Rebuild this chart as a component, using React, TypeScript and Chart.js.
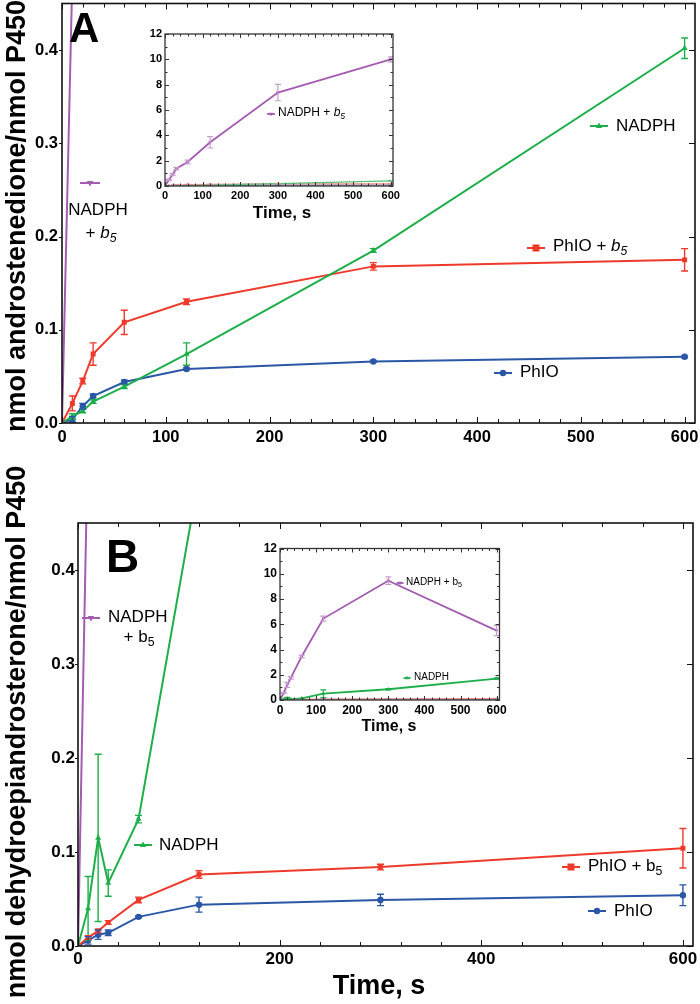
import React, { useEffect, useRef } from "react";
import { Chart, registerables } from "chart.js";
Chart.register(...registerables);

const FAMILY = '"Liberation Sans", Arial, Helvetica, sans-serif';

const TIMES = [0, 10, 20, 30, 60, 120, 300, 600];

// Tick labels
const A_XTICKS = [0, 100, 200, 300, 400, 500, 600];
const B_XTICKS = [0, 200, 400, 600];
const MAIN_YTICKS = [0, 0.1, 0.2, 0.3, 0.4];
const INSET_XTICKS = [0, 100, 200, 300, 400, 500, 600];
const INSET_YTICKS = [0, 2, 4, 6, 8, 10, 12];

// Panel A: androstenedione
const A_PHIO = [0, 0.004, 0.018, 0.029, 0.044, 0.058, 0.066, 0.071];
const A_PHIO_ERR = [0, 0.003, 0.003, 0.002, 0.002, 0.001, 0.001, 0.001];
const A_PHIO_B5 = [0, 0.021, 0.045, 0.074, 0.108, 0.13, 0.168, 0.175];
const A_PHIO_B5_ERR = [0, 0.008, 0.003, 0.012, 0.013, 0.003, 0.004, 0.012];
const A_NADPH = [0, 0.007, 0.013, 0.023, 0.039, 0.074, 0.185, 0.402];
const A_NADPH_ERR = [0, 0.003, 0.002, 0.002, 0.002, 0.012, 0.002, 0.011];
const A_NADPH_B5 = [0, 0.48, 0.9, 1.37, 1.9, 3.45, 7.38, 10.0];
const A_NADPH_B5_ERR = [0, 0.05, 0.08, 0.1, 0.15, 0.45, 0.65, 0.2];

// Panel B: dehydroepiandrosterone
const B_PHIO = [0, 0.006, 0.012, 0.014, 0.031, 0.044, 0.049, 0.054];
const B_PHIO_ERR = [0, 0.004, 0.005, 0.003, 0.001, 0.008, 0.006, 0.011];
const B_PHIO_B5 = [0, 0.009, 0.016, 0.025, 0.049, 0.076, 0.084, 0.104];
const B_PHIO_B5_ERR = [0, 0.002, 0.002, 0.002, 0.003, 0.004, 0.003, 0.021];
const B_NADPH = [0, 0.04, 0.115, 0.067, 0.135, 0.5, 0.85, 1.7];
const B_NADPH_ERR = [0, 0.034, 0.089, 0.014, 0.004, 0.3, 0.05, 0.05];
const B_NADPH_B5 = [0, 0.55, 1.2, 1.75, 3.45, 6.45, 9.45, 5.5];
const B_NADPH_B5_ERR = [0, 0.05, 0.2, 0.1, 0.1, 0.2, 0.3, 0.4];

const A_YTITLE = "nmol androstenedione/nmol P450";
const B_YTITLE = "nmol dehydroepiandrosterone/nmol P450";
const X_TITLE = "Time, s";

const COLORS = {
  phio: "#2B57A7",
  phiob5: "#EE3A2B",
  nadph: "#1EAF4B",
  nadphb5: "#A35CB0",
};

type Seg = { t: string; italic?: boolean; sub?: boolean };

function drawRich(ctx: any, segs: Seg[], x: number, y: number, size: number, align = "left", bold = false) {
  const fontFor = (s: Seg) =>
    `${s.italic ? "italic " : ""}${bold ? "bold " : ""}${s.sub ? size * 0.72 : size}px ${FAMILY}`;
  let w = 0;
  segs.forEach((s) => {
    ctx.font = fontFor(s);
    w += ctx.measureText(s.t).width;
  });
  let cx = align === "center" ? x - w / 2 : x;
  ctx.textAlign = "left";
  ctx.textBaseline = "middle";
  ctx.fillStyle = "#000";
  segs.forEach((s) => {
    ctx.font = fontFor(s);
    ctx.fillText(s.t, cx, y + (s.sub ? size * 0.32 : 0));
    cx += ctx.measureText(s.t).width;
  });
}

function drawMarker(ctx: any, x: number, y: number, style: string, r: number, color: string) {
  ctx.fillStyle = color;
  ctx.beginPath();
  if (style === "circle") ctx.arc(x, y, r, 0, Math.PI * 2);
  else if (style === "rect") ctx.rect(x - r, y - r, 2 * r, 2 * r);
  else if (style === "triangle") {
    ctx.moveTo(x, y - r);
    ctx.lineTo(x + r * 0.9, y + r * 0.6);
    ctx.lineTo(x - r * 0.9, y + r * 0.6);
    ctx.closePath();
  } else {
    ctx.moveTo(x, y + r);
    ctx.lineTo(x + r * 0.9, y - r * 0.6);
    ctx.lineTo(x - r * 0.9, y - r * 0.6);
    ctx.closePath();
  }
  ctx.fill();
}

function legendMark(ctx: any, x: number, y: number, len: number, color: string, style: string, r: number, lw = 2) {
  ctx.strokeStyle = color;
  ctx.lineWidth = lw;
  ctx.beginPath();
  ctx.moveTo(x - len / 2, y);
  ctx.lineTo(x + len / 2, y);
  ctx.stroke();
  drawMarker(ctx, x, y, style, r, color);
}

function rotTitle(ctx: any, text: string, x: number, y: number, size: number) {
  ctx.save();
  ctx.translate(x, y);
  ctx.rotate(-Math.PI / 2);
  ctx.font = `bold ${size}px ${FAMILY}`;
  ctx.textAlign = "center";
  ctx.textBaseline = "alphabetic";
  ctx.fillStyle = "#000";
  ctx.fillText(text, 0, 0);
  ctx.restore();
}

function makeDs(label: string, vals: number[], errs: number[], color: string, ps: string, rot: number, r: number, lw: number, errColor?: string) {
  return {
    label,
    data: TIMES.map((t, i) => ({ x: t, y: vals[i] })),
    errors: errs,
    errorColor: errColor || color,
    borderColor: color,
    backgroundColor: color,
    pointStyle: ps,
    rotation: rot,
    pointRadius: r,
    pointHoverRadius: r,
    pointBorderWidth: 0,
    borderWidth: lw,
    showLine: true,
    tension: 0,
  };
}

const errorBarPlugin = {
  id: "errbars",
  afterDatasetsDraw(chart: any, _a: any, opts: any) {
    const { ctx, chartArea: a, scales } = chart;
    const x = scales.x;
    const y = scales.y;
    ctx.save();
    ctx.beginPath();
    ctx.rect(a.left, a.top, a.right - a.left, a.bottom - a.top);
    ctx.clip();
    chart.data.datasets.forEach((d: any) => {
      if (!d.errors) return;
      ctx.strokeStyle = d.errorColor;
      ctx.lineWidth = opts.width || 1.2;
      d.data.forEach((p: any, i: number) => {
        const e = d.errors[i];
        if (!e || p.y > y.max) return;
        const px = x.getPixelForValue(p.x);
        const y1 = y.getPixelForValue(p.y + e);
        const y2 = y.getPixelForValue(p.y - e);
        const c = opts.cap || 3;
        ctx.beginPath();
        ctx.moveTo(px, y1);
        ctx.lineTo(px, y2);
        ctx.moveTo(px - c, y1);
        ctx.lineTo(px + c, y1);
        ctx.moveTo(px - c, y2);
        ctx.lineTo(px + c, y2);
        ctx.stroke();
      });
    });
    ctx.restore();
  },
};

type FrameCfg = {
  xMajor: number; xMinor: number; yMajor: number; yMinor: number;
  majLen: number; minLen: number; outLen: number; color: string; lw: number;
};

function framePlugin(f: FrameCfg) {
  return {
    id: "frame",
    afterDraw(chart: any) {
      const { ctx, chartArea: a, scales } = chart;
      const x = scales.x;
      const y = scales.y;
      ctx.save();
      ctx.strokeStyle = f.color;
      ctx.lineWidth = f.lw;
      ctx.strokeRect(a.left, a.top, a.right - a.left, a.bottom - a.top);
      ctx.lineWidth = 1;
      ctx.beginPath();
      const nx = Math.floor(x.max / f.xMinor + 1e-6);
      for (let k = 0; k <= nx; k++) {
        const v = k * f.xMinor;
        const major = Math.abs(v / f.xMajor - Math.round(v / f.xMajor)) < 1e-6;
        const L = major ? f.majLen : f.minLen;
        const px = Math.round(x.getPixelForValue(v)) + 0.5;
        ctx.moveTo(px, a.bottom);
        ctx.lineTo(px, a.bottom - L);
        ctx.moveTo(px, a.top);
        ctx.lineTo(px, a.top + L);
      }
      const ny = Math.floor(y.max / f.yMinor + 1e-6);
      for (let k = 0; k <= ny; k++) {
        const v = k * f.yMinor;
        const major = Math.abs(v / f.yMajor - Math.round(v / f.yMajor)) < 1e-6;
        const L = major ? f.majLen : f.minLen;
        const py = Math.round(y.getPixelForValue(v)) + 0.5;
        ctx.moveTo(a.right, py);
        ctx.lineTo(a.right - L, py);
        if (major && f.outLen > 0) {
          ctx.moveTo(a.left, py);
          ctx.lineTo(a.left - f.outLen, py);
        } else {
          ctx.moveTo(a.left, py);
          ctx.lineTo(a.left + L, py);
        }
      }
      ctx.stroke();
      ctx.restore();
    },
  };
}

type Spec = {
  left: number; top: number; width: number; height: number;
  datasets: any[];
  xMax: number; yMax: number; xTicks: number[]; yTicks: number[]; yDec: number;
  pad: { top: number; right: number };
  yWidth: number; xHeight: number;
  tickSize: number; xPad: number; yPad: number;
  frame: FrameCfg;
  cap: number; errWidth: number;
  overlay: (ctx: any) => void;
};

function noPad(sc: any) {
  sc.paddingTop = 0;
  sc.paddingBottom = 0;
  sc.paddingLeft = 0;
  sc.paddingRight = 0;
}

function buildConfig(s: Spec): any {
  const overlayPlugin = {
    id: "overlay",
    afterDraw(chart: any) {
      const ctx = chart.ctx;
      ctx.save();
      ctx.translate(-s.left, -s.top);
      s.overlay(ctx);
      ctx.restore();
    },
  };
  return {
    type: "scatter",
    data: { datasets: s.datasets },
    options: {
      responsive: false,
      animation: false,
      events: [],
      layout: { padding: { left: 0, top: s.pad.top, right: s.pad.right, bottom: 0 } },
      plugins: {
        legend: { display: false },
        tooltip: { enabled: false },
        errbars: { cap: s.cap, width: s.errWidth },
      },
      scales: {
        x: {
          type: "linear",
          min: 0,
          max: s.xMax,
          afterBuildTicks: (sc: any) => { sc.ticks = s.xTicks.map((v) => ({ value: v })); },
          afterFit: (sc: any) => { sc.height = s.xHeight; noPad(sc); },
          grid: { display: false, drawTicks: false },
          border: { display: false },
          ticks: {
            autoSkip: false,
            maxRotation: 0,
            padding: s.xPad,
            color: "#000",
            font: { family: FAMILY, size: s.tickSize, weight: "bold" },
            callback: (v: any) => String(Math.round(v)),
          },
        },
        y: {
          type: "linear",
          min: 0,
          max: s.yMax,
          afterBuildTicks: (sc: any) => { sc.ticks = s.yTicks.map((v) => ({ value: v })); },
          afterFit: (sc: any) => { sc.width = s.yWidth; noPad(sc); },
          grid: { display: false, drawTicks: false },
          border: { display: false },
          ticks: {
            autoSkip: false,
            padding: s.yPad,
            color: "#000",
            font: { family: FAMILY, size: s.tickSize, weight: "bold" },
            callback: (v: any) => Number(v).toFixed(s.yDec),
          },
        },
      },
    },
    plugins: [errorBarPlugin, framePlugin(s.frame), overlayPlugin],
  };
}

function ChartBox({ spec }: { spec: Spec }) {
  const ref = useRef<HTMLCanvasElement>(null);
  useEffect(() => {
    const chart = new Chart(ref.current as HTMLCanvasElement, buildConfig(spec));
    return () => chart.destroy();
  }, []);
  return (
    <canvas
      ref={ref}
      width={spec.width}
      height={spec.height}
      style={{ position: "absolute", left: spec.left, top: spec.top, width: spec.width, height: spec.height }}
    />
  );
}

const mainFrame: FrameCfg = { xMajor: 100, xMinor: 20, yMajor: 0.1, yMinor: 0.1, majLen: 6, minLen: 4, outLen: 3, color: "#111", lw: 1.6 };

const specA: Spec = {
  left: 0, top: 0, width: 700, height: 450,
  datasets: [
    makeDs("NADPH + b5", A_NADPH_B5, A_NADPH_B5_ERR, COLORS.nadphb5, "triangle", 180, 3.5, 2),
    makeDs("NADPH", A_NADPH, A_NADPH_ERR, COLORS.nadph, "triangle", 0, 3.5, 2),
    makeDs("PhIO + b5", A_PHIO_B5, A_PHIO_B5_ERR, COLORS.phiob5, "rect", 0, 3.5, 2),
    makeDs("PhIO", A_PHIO, A_PHIO_ERR, COLORS.phio, "circle", 0, 3.2, 2),
  ],
  xMax: 610, yMax: 0.45, xTicks: A_XTICKS, yTicks: MAIN_YTICKS, yDec: 1,
  pad: { top: 2, right: 5 }, yWidth: 62, xHeight: 27,
  tickSize: 16.5, xPad: 5, yPad: 4,
  frame: mainFrame, cap: 3.5, errWidth: 1.4,
  overlay: (ctx) => {
    rotTitle(ctx, A_YTITLE, 25, 216, 27);
    ctx.font = `bold 42px ${FAMILY}`;
    ctx.textAlign = "left";
    ctx.textBaseline = "alphabetic";
    ctx.fillStyle = "#000";
    ctx.fillText("A", 69, 42);
    legendMark(ctx, 90, 183, 20, COLORS.nadphb5, "tridown", 3.5);
    drawRich(ctx, [{ t: "NADPH" }], 98, 210, 17, "center");
    drawRich(ctx, [{ t: "+ " }, { t: "b", italic: true }, { t: "5", sub: true, italic: true }], 101, 233, 17, "center");
    legendMark(ctx, 599, 126, 18, COLORS.nadph, "triangle", 3.5);
    drawRich(ctx, [{ t: "NADPH" }], 616, 126, 17);
    legendMark(ctx, 536, 248, 18, COLORS.phiob5, "rect", 3.5);
    drawRich(ctx, [{ t: "PhIO + " }, { t: "b", italic: true }, { t: "5", sub: true, italic: true }], 553, 246, 17);
    legendMark(ctx, 503, 373, 18, COLORS.phio, "circle", 3.2);
    drawRich(ctx, [{ t: "PhIO" }], 520, 372, 17);
  },
};

const insetFrame: FrameCfg = { xMajor: 100, xMinor: 20, yMajor: 2, yMinor: 1, majLen: 4, minLen: 2.5, outLen: 0, color: "#333", lw: 1.3 };

const specAi: Spec = {
  left: 135, top: 25, width: 265, height: 205,
  datasets: [
    makeDs("NADPH", A_NADPH, A_NADPH_ERR, "#58C27A", "triangle", 0, 1.5, 1.2),
    makeDs("PhIO + b5", A_PHIO_B5, A_PHIO_B5_ERR, "#F08C84", "rect", 0, 1.5, 1.2),
    makeDs("PhIO", A_PHIO, A_PHIO_ERR, "#6F8CC4", "circle", 0, 1.5, 1.2),
    makeDs("NADPH + b5", A_NADPH_B5, A_NADPH_B5_ERR, COLORS.nadphb5, "triangle", 180, 2.2, 1.8, "#C79BCF"),
  ],
  xMax: 606, yMax: 12, xTicks: INSET_XTICKS, yTicks: INSET_YTICKS, yDec: 0,
  pad: { top: 9, right: 7 }, yWidth: 30, xHeight: 44,
  tickSize: 11, xPad: 3, yPad: 3,
  frame: insetFrame, cap: 3, errWidth: 1.2,
  overlay: (ctx) => {
    drawRich(ctx, [{ t: X_TITLE }], 282, 213, 17, "center", true);
    legendMark(ctx, 271, 114, 8, COLORS.nadphb5, "tridown", 2.2, 1.8);
    drawRich(ctx, [{ t: "NADPH + " }, { t: "b", italic: true }, { t: "5", sub: true, italic: true }], 278, 113, 12);
  },
};

const specB: Spec = {
  left: 0, top: 460, width: 700, height: 544,
  datasets: [
    makeDs("NADPH + b5", B_NADPH_B5, B_NADPH_B5_ERR, COLORS.nadphb5, "triangle", 180, 3.5, 2),
    makeDs("NADPH", B_NADPH, B_NADPH_ERR, COLORS.nadph, "triangle", 0, 3.5, 2),
    makeDs("PhIO + b5", B_PHIO_B5, B_PHIO_B5_ERR, COLORS.phiob5, "rect", 0, 3.5, 2),
    makeDs("PhIO", B_PHIO, B_PHIO_ERR, COLORS.phio, "circle", 0, 3.2, 2),
  ],
  xMax: 610, yMax: 0.45, xTicks: B_XTICKS, yTicks: MAIN_YTICKS, yDec: 1,
  pad: { top: 63, right: 7 }, yWidth: 78, xHeight: 58,
  tickSize: 17, xPad: 3, yPad: 3,
  frame: { ...mainFrame, xMajor: 200, xMinor: 40 }, cap: 3.5, errWidth: 1.4,
  overlay: (ctx) => {
    rotTitle(ctx, B_YTITLE, 25, 732, 27);
    drawRich(ctx, [{ t: X_TITLE }], 379, 987, 27, "center", true);
    ctx.font = `bold 46px ${FAMILY}`;
    ctx.textAlign = "left";
    ctx.textBaseline = "alphabetic";
    ctx.fillStyle = "#000";
    ctx.fillText("B", 106, 572);
    legendMark(ctx, 91, 618, 18, COLORS.nadphb5, "tridown", 3.5);
    drawRich(ctx, [{ t: "NADPH" }], 108, 617, 17);
    drawRich(ctx, [{ t: "+ b" }, { t: "5", sub: true }], 139, 637, 17, "center");
    legendMark(ctx, 143, 845, 18, COLORS.nadph, "triangle", 3.5);
    drawRich(ctx, [{ t: "NADPH" }], 159, 845, 17);
    legendMark(ctx, 571, 867, 18, COLORS.phiob5, "rect", 3.5);
    drawRich(ctx, [{ t: "PhIO + b" }, { t: "5", sub: true }], 588, 866, 17);
    legendMark(ctx, 597, 911, 18, COLORS.phio, "circle", 3.2);
    drawRich(ctx, [{ t: "PhIO" }], 614, 911, 17);
  },
};

const specBi: Spec = {
  left: 250, top: 540, width: 265, height: 200,
  datasets: [
    makeDs("PhIO + b5", B_PHIO_B5, B_PHIO_B5_ERR, "#F08C84", "rect", 0, 1.5, 1.2),
    makeDs("PhIO", B_PHIO, B_PHIO_ERR, "#6F8CC4", "circle", 0, 1.5, 1.2),
    makeDs("NADPH", B_NADPH, B_NADPH_ERR, COLORS.nadph, "triangle", 0, 2.2, 1.8),
    makeDs("NADPH + b5", B_NADPH_B5, B_NADPH_B5_ERR, COLORS.nadphb5, "triangle", 180, 2.2, 1.8, "#C79BCF"),
  ],
  xMax: 608, yMax: 12, xTicks: INSET_XTICKS, yTicks: INSET_YTICKS, yDec: 0,
  pad: { top: 8.5, right: 15.5 }, yWidth: 30, xHeight: 40,
  tickSize: 12, xPad: 3, yPad: 3,
  frame: insetFrame, cap: 3, errWidth: 1.2,
  overlay: (ctx) => {
    drawRich(ctx, [{ t: X_TITLE }], 389, 727, 16, "center", true);
    legendMark(ctx, 400, 583, 7, COLORS.nadphb5, "tridown", 2.2, 1.8);
    drawRich(ctx, [{ t: "NADPH + b" }, { t: "5", sub: true }], 406, 582, 10);
    legendMark(ctx, 407, 678, 7, COLORS.nadph, "triangle", 2.2, 1.8);
    drawRich(ctx, [{ t: "NADPH" }], 414, 677, 10);
  },
};

export default function App() {
  return (
    <div style={{ position: "absolute", left: 0, top: 0, width: 700, height: 1004, background: "#fff", overflow: "hidden" }}>
      <ChartBox spec={specA} />
      <ChartBox spec={specAi} />
      <ChartBox spec={specB} />
      <ChartBox spec={specBi} />
    </div>
  );
}
